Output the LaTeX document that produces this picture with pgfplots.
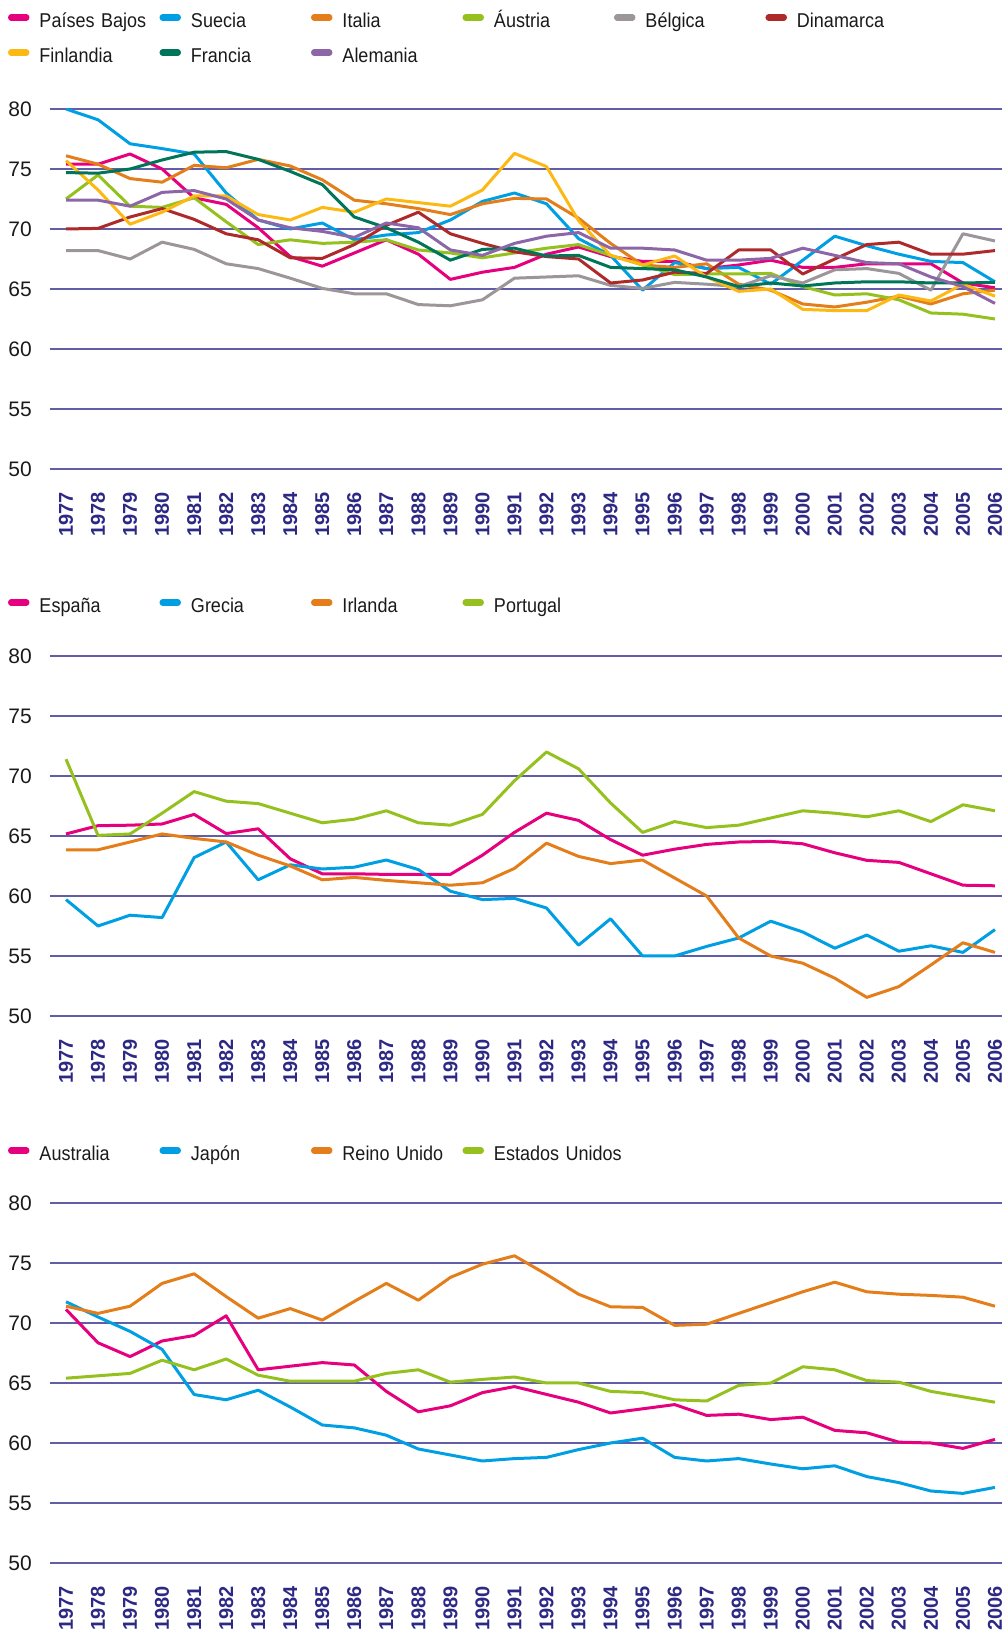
\documentclass[border=0pt]{standalone}
\usepackage{pgfplots}
\pgfplotsset{compat=1.18}
\usepackage{pgfplotstable}
\usepackage{fontspec}
\setmainfont{Liberation Sans}
\newfontfamily\legendfont{Liberation Sans}[FakeStretch=0.9]

\definecolor{cPink}{HTML}{E6007E}
\definecolor{cBlue}{HTML}{009FE3}
\definecolor{cOrange}{HTML}{E37E1A}
\definecolor{cGreen}{HTML}{95C11F}
\definecolor{cGray}{HTML}{9C9599}
\definecolor{cRed}{HTML}{AE2A2A}
\definecolor{cYellow}{HTML}{FDB913}
\definecolor{cTeal}{HTML}{00755A}
\definecolor{cPurple}{HTML}{8C66A6}
\definecolor{cGrid}{HTML}{615DA6}
\definecolor{cNavy}{HTML}{2C2883}
\definecolor{cText}{HTML}{1A1A1A}

\pgfplotstableread{
year NL SE IT AT BE DK FI FR DE
1977 75.4 80.0 76.1 72.5 68.2 70.0 75.7 74.7 72.4
1978 75.4 79.1 75.4 74.5 68.2 70.05 73.25 74.65 72.4
1979 76.25 77.1 74.2 71.9 67.5 71.0 70.4 75.0 71.9
1980 75.0 76.7 73.9 71.8 68.9 71.7 71.4 75.75 73.05
1981 72.6 76.25 75.3 72.6 68.3 70.8 72.75 76.4 73.2
1982 72.05 73.0 75.1 70.6 67.1 69.6 72.75 76.45 72.5
1983 70.1 70.75 75.8 68.7 66.7 69.1 71.2 75.8 70.75
1984 67.7 70.0 75.25 69.1 65.9 67.6 70.75 74.8 70.1
1985 66.9 70.5 74.1 68.8 65.05 67.55 71.8 73.7 69.8
1986 68.0 69.1 72.4 68.9 64.6 68.7 71.4 71.0 69.3
1987 69.1 69.5 72.1 69.1 64.6 70.3 72.5 70.1 70.5
1988 67.9 69.7 71.7 68.25 63.7 71.4 72.2 68.9 70.1
1989 65.8 70.75 71.2 68.0 63.6 69.6 71.9 67.4 68.25
1990 66.4 72.3 72.1 67.6 64.1 68.8 73.25 68.3 67.8
1991 66.8 73.0 72.55 68.0 65.9 68.1 76.3 68.4 68.8
1992 67.9 72.1 72.5 68.4 66.0 67.7 75.2 67.75 69.4
1993 68.5 69.2 70.9 68.7 66.1 67.5 70.7 67.8 69.7
1994 67.7 67.8 68.8 67.8 65.3 65.5 67.8 66.8 68.4
1995 67.3 64.9 67.0 67.0 65.05 65.75 67.0 66.7 68.4
1996 67.3 67.2 66.8 66.2 65.55 66.4 67.75 66.6 68.25
1997 66.7 66.7 67.1 66.25 65.4 66.3 66.0 66.0 67.4
1998 67.0 66.8 65.4 66.25 65.2 68.25 64.8 65.2 67.4
1999 67.4 65.4 64.9 66.3 66.1 68.25 65.0 65.5 67.55
2000 66.8 67.4 63.75 65.2 65.5 66.25 63.3 65.25 68.4
2001 66.8 69.4 63.5 64.5 66.6 67.5 63.2 65.5 67.8
2002 67.1 68.6 63.9 64.6 66.7 68.7 63.2 65.6 67.2
2003 67.1 67.9 64.4 64.1 66.3 68.9 64.5 65.6 67.1
2004 67.1 67.3 63.75 63.0 64.9 67.9 64.0 65.5 66.0
2005 65.5 67.2 64.6 62.9 69.6 67.9 65.4 65.5 65.2
2006 65.1 65.6 64.9 62.5 69.0 68.2 64.4 65.55 63.8
}\tablePanelA

\pgfplotstableread{
year ES GR IE PT
1977 65.17 59.7 63.85 71.4
1978 65.86 57.5 63.85 65.05
1979 65.9 58.4 64.5 65.17
1980 66.0 58.2 65.17 66.9
1981 66.8 63.2 64.8 68.7
1982 65.2 64.5 64.5 67.9
1983 65.6 61.35 63.4 67.7
1984 63.1 62.6 62.5 66.9
1985 61.85 62.25 61.35 66.1
1986 61.85 62.4 61.55 66.4
1987 61.8 63.0 61.3 67.1
1988 61.8 62.2 61.1 66.1
1989 61.8 60.4 60.9 65.9
1990 63.4 59.7 61.1 66.8
1991 65.3 59.8 62.3 69.6
1992 66.9 59.0 64.4 72.0
1993 66.3 55.9 63.3 70.6
1994 64.7 58.1 62.7 67.75
1995 63.4 55.0 63.0 65.3
1996 63.9 55.0 61.5 66.2
1997 64.3 55.8 60.0 65.7
1998 64.5 56.5 56.5 65.9
1999 64.55 57.9 55.0 66.5
2000 64.35 57.0 54.4 67.1
2001 63.6 55.65 53.15 66.9
2002 62.97 56.75 51.55 66.6
2003 62.8 55.4 52.45 67.1
2004 61.85 55.85 54.25 66.2
2005 60.9 55.3 56.1 67.6
2006 60.85 57.2 55.3 67.1
}\tablePanelB

\pgfplotstableread{
year AU JP UK US
1977 71.13 71.77 71.4 65.4
1978 68.35 70.5 70.8 65.6
1979 67.2 69.3 71.4 65.8
1980 68.5 67.8 73.3 66.9
1981 68.96 64.04 74.1 66.1
1982 70.6 63.6 72.2 67.0
1983 66.1 64.4 70.4 65.65
1984 66.4 63.0 71.2 65.15
1985 66.7 61.5 70.24 65.15
1986 66.5 61.26 71.8 65.15
1987 64.3 60.65 73.3 65.8
1988 62.6 59.5 71.9 66.1
1989 63.1 59.0 73.8 65.07
1990 64.2 58.5 74.9 65.3
1991 64.7 58.7 75.6 65.5
1992 64.05 58.8 74.05 65.0
1993 63.4 59.45 72.4 65.0
1994 62.5 60.0 71.35 64.3
1995 62.85 60.4 71.3 64.2
1996 63.2 58.8 69.8 63.6
1997 62.3 58.5 69.9 63.5
1998 62.4 58.7 70.8 64.8
1999 61.95 58.25 71.7 65.0
2000 62.15 57.85 72.6 66.35
2001 61.05 58.1 73.4 66.1
2002 60.85 57.2 72.6 65.2
2003 60.07 56.7 72.4 65.07
2004 60.0 56.0 72.3 64.3
2005 59.55 55.8 72.15 63.85
2006 60.3 56.3 71.4 63.4
}\tablePanelC

\pgfplotsset{
  panel/.style={
    scale only axis, width=952pt, height=360pt,
    xmin=1976.5, xmax=2006.22, ymin=50, ymax=80,
    axis line style={draw=none},
    major tick length=0pt,
    xtick={1977,1978,...,2006},
    ytick={50,55,...,80},
    ymajorgrids,
    grid style={color=cGrid, line width=1.4pt},
    /pgf/number format/assume math mode=true,
    /pgf/number format/1000 sep={},
    xticklabel style={rotate=90, anchor=east, inner sep=0pt,
      font=\fontsize{20}{20}\selectfont\bfseries, text=cNavy},
    xticklabel shift=23pt,
    yticklabel style={anchor=east, inner sep=0pt,
      font=\fontsize{21}{21}\selectfont, text=cText},
    yticklabel shift=18pt,
    every axis plot/.append style={line width=3pt, line join=round, mark=none},
    legend columns=6,
    legend cell align=left,
    legend image code/.code={\draw[##1, line width=6.5pt, line cap=round] (3.5pt,6pt) -- (18.5pt,6pt);},
    legend style={draw=none, fill=none, inner sep=0pt, outer sep=0pt,
      at={(axis description cs:0,1)}, anchor=north west, xshift=-42pt,
      font=\fontsize{20}{20}\legendfont, text=cText,
      row sep=16pt,
      /tikz/every odd column/.style={column sep=10pt},
      /tikz/every even column/.style={column sep=0pt},
      nodes={text width=120pt, align=left, inner sep=0pt, text height=14pt, text depth=5pt}},
  }
}

\begin{document}
\begin{tikzpicture}
% Panel 1
\begin{axis}[panel, at={(50pt,1167pt)}, anchor=south west,
  legend style={yshift=95pt}]
\addplot[cPink]   table[x=year,y=NL] {\tablePanelA}; \addlegendentry{Países Bajos}
\addplot[cBlue]   table[x=year,y=SE] {\tablePanelA}; \addlegendentry{Suecia}
\addplot[cOrange] table[x=year,y=IT] {\tablePanelA}; \addlegendentry{Italia}
\addplot[cGreen]  table[x=year,y=AT] {\tablePanelA}; \addlegendentry{Áustria}
\addplot[cGray]   table[x=year,y=BE] {\tablePanelA}; \addlegendentry{Bélgica}
\addplot[cRed]    table[x=year,y=DK] {\tablePanelA}; \addlegendentry{Dinamarca}
\addplot[cYellow] table[x=year,y=FI] {\tablePanelA}; \addlegendentry{Finlandia}
\addplot[cTeal]   table[x=year,y=FR] {\tablePanelA}; \addlegendentry{Francia}
\addplot[cPurple] table[x=year,y=DE] {\tablePanelA}; \addlegendentry{Alemania}
\end{axis}
% Panel 2
\begin{axis}[panel, at={(50pt,620pt)}, anchor=south west,
  legend style={yshift=57pt}]
\addplot[cPink]   table[x=year,y=ES] {\tablePanelB}; \addlegendentry{España}
\addplot[cBlue]   table[x=year,y=GR] {\tablePanelB}; \addlegendentry{Grecia}
\addplot[cOrange] table[x=year,y=IE] {\tablePanelB}; \addlegendentry{Irlanda}
\addplot[cGreen]  table[x=year,y=PT] {\tablePanelB}; \addlegendentry{Portugal}
\end{axis}
% Panel 3
\begin{axis}[panel, at={(50pt,73pt)}, anchor=south west,
  legend style={yshift=56pt}]
\addplot[cPink]   table[x=year,y=AU] {\tablePanelC}; \addlegendentry{Australia}
\addplot[cBlue]   table[x=year,y=JP] {\tablePanelC}; \addlegendentry{Japón}
\addplot[cOrange] table[x=year,y=UK] {\tablePanelC}; \addlegendentry{Reino Unido}
\addplot[cGreen]  table[x=year,y=US] {\tablePanelC}; \addlegendentry{\mbox{Estados Unidos}}
\end{axis}
\pgfresetboundingbox
\useasboundingbox (0pt,0pt) rectangle (1002pt,1636pt);
\end{tikzpicture}
\end{document}
